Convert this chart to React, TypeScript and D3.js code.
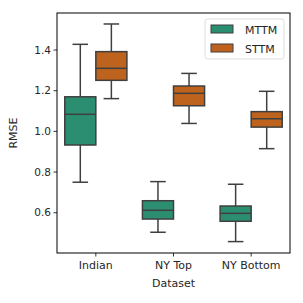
import * as React from 'react';
import * as d3 from 'd3';

// summary values: [low whisker, q1, median, q3, high whisker]
const datasets = ['Indian', 'NY Top', 'NY Bottom'];
const models = ['MTTM', 'STTM'];
const mttmStats = [
  [0.750, 0.933, 1.084, 1.170, 1.428],
  [0.504, 0.569, 0.612, 0.659, 0.753],
  [0.458, 0.558, 0.597, 0.633, 0.740],
];
const sttmStats = [
  [1.161, 1.251, 1.310, 1.392, 1.528],
  [1.039, 1.126, 1.187, 1.223, 1.285],
  [0.915, 1.021, 1.062, 1.097, 1.197],
];
const yTicks = [0.6, 0.8, 1.0, 1.2, 1.4];

const colors = ['#2b8e70', '#be631d'];
const lineColor = '#3f3f3f';
const font = 'DejaVu Sans, sans-serif';

const W = 303;
const H = 303;
const m = { left: 57, right: 13, top: 13, bottom: 50 };

export default function App() {
  const innerW = W - m.left - m.right;
  const innerH = H - m.top - m.bottom;

  const x = d3.scaleBand<string>().domain(datasets).range([0, innerW]);
  const hue = d3.scaleBand<string>().domain(models).range([0, x.bandwidth() * 0.8]);
  const y = d3.scaleLinear().domain([0.402, 1.582]).range([innerH, 0]);

  const seriesStats = [mttmStats, sttmStats];

  return (
    <svg width={W} height={H} style={{ position: 'absolute', left: 0, top: 0 }} fontFamily={font}>
      <rect width={W} height={H} fill="white" />
      <g transform={`translate(${m.left},${m.top})`}>
        {models.map((model, mi) =>
          datasets.map((ds, di) => {
            const [lo, q1, med, q3, hi] = seriesStats[mi][di];
            const bx = (x(ds) as number) + x.bandwidth() * 0.1 + (hue(model) as number);
            const bw = hue.bandwidth();
            const cx = bx + bw / 2;
            const cap = bw / 4;
            return (
              <g key={model + ds} stroke={lineColor} strokeWidth={1.5}>
                <line x1={cx} x2={cx} y1={y(q3)} y2={y(hi)} />
                <line x1={cx} x2={cx} y1={y(q1)} y2={y(lo)} />
                <line x1={cx - cap} x2={cx + cap} y1={y(hi)} y2={y(hi)} />
                <line x1={cx - cap} x2={cx + cap} y1={y(lo)} y2={y(lo)} />
                <rect x={bx} y={y(q3)} width={bw} height={y(q1) - y(q3)} fill={colors[mi]} />
                <line x1={bx} x2={bx + bw} y1={y(med)} y2={y(med)} />
              </g>
            );
          })
        )}

        {/* y axis */}
        {yTicks.map((t) => (
          <g key={t} transform={`translate(0,${y(t)})`}>
            <line x1={-3.5} x2={0} stroke="black" strokeWidth={0.8} />
            <text x={-6} dy="0.35em" textAnchor="end" fontSize={10.5} fill="#262626">
              {t.toFixed(1)}
            </text>
          </g>
        ))}
        {/* x axis */}
        {datasets.map((ds) => (
          <g key={ds} transform={`translate(${(x(ds) as number) + x.bandwidth() / 2},${innerH})`}>
            <line y1={0} y2={3.5} stroke="black" strokeWidth={0.8} />
            <text y={16} textAnchor="middle" fontSize={11} fill="#262626">
              {ds}
            </text>
          </g>
        ))}
        <rect x={0} y={0} width={innerW} height={innerH} fill="none" stroke="black" strokeWidth={1} />

        <text x={innerW / 2} y={innerH + 34} textAnchor="middle" fontSize={11} fill="#262626">
          Dataset
        </text>
        <text
          transform={`translate(${-40},${innerH / 2}) rotate(-90)`}
          textAnchor="middle"
          fontSize={11}
          fill="#262626"
        >
          RMSE
        </text>

        {/* legend */}
        <g transform={`translate(${innerW - 85},6)`}>
          <rect x={0} y={0} width={79} height={40} rx={2.5} fill="white" fillOpacity={0.8} stroke="#d6d6d6" strokeWidth={0.8} />
          {models.map((model, i) => (
            <g key={model} transform={`translate(6,${6 + i * 19})`}>
              <rect width={22} height={8} fill={colors[i]} stroke={lineColor} strokeWidth={1} />
              <text x={34} y={8.5} fontSize={11} fill="#262626">
                {model}
              </text>
            </g>
          ))}
        </g>
      </g>
    </svg>
  );
}
